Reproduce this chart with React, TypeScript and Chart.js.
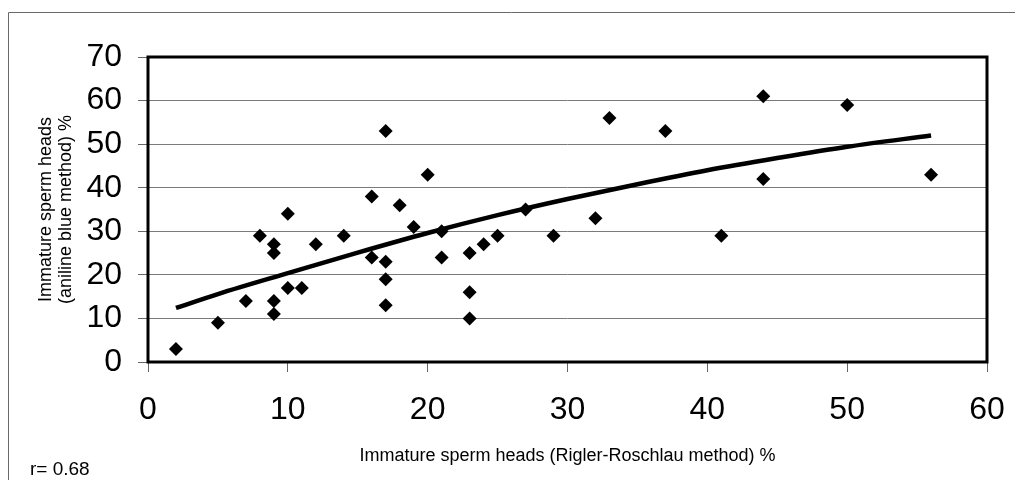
import React, { useEffect, useRef } from "react";
import { Chart, registerables } from "chart.js";

Chart.register(...registerables);

// Immature sperm heads, Rigler-Roschlau method (%)
const rrValues = [2, 5, 7, 8, 9, 9, 9, 9, 10, 10, 11, 12, 14, 16, 16, 17, 17, 17, 17, 18, 19, 20, 21, 21, 23, 23, 23, 24, 25, 27, 29, 32, 33, 37, 41, 44, 44, 50, 56];
// Immature sperm heads, aniline blue method (%)
const abValues = [3, 9, 14, 29, 27, 25, 14, 11, 34, 17, 17, 27, 29, 38, 24, 53, 23, 19, 13, 36, 31, 43, 30, 24, 25, 16, 10, 27, 29, 35, 29, 33, 56, 53, 29, 61, 42, 59, 43];

// Trend line
const trendX = [2, 5, 10, 15, 20, 25, 30, 35, 40, 45, 50, 56];
const trendY = [12.4, 15.6, 20.4, 25.1, 29.6, 33.7, 37.4, 40.8, 44.0, 46.8, 49.4, 52.0];

const xTicks = [0, 10, 20, 30, 40, 50, 60];
const yTicks = [0, 10, 20, 30, 40, 50, 60, 70];

const xTitle = "Immature sperm heads (Rigler-Roschlau method) %";
const yTitle = ["Immature sperm heads", "(aniline blue method) %"];
const rLabel = "r= 0.68";

const FONT = "'Liberation Sans', Arial, sans-serif";

export default function App() {
  const ref = useRef<HTMLCanvasElement | null>(null);

  useEffect(() => {
    const canvas = ref.current;
    if (!canvas) return;

    const framePlugin = {
      id: "frame",
      beforeDraw(chart: any) {
        const ctx = chart.ctx;
        ctx.save();
        ctx.fillStyle = "#ffffff";
        ctx.fillRect(0, 0, chart.width, chart.height);
        ctx.strokeStyle = "#6a6a6a";
        ctx.lineWidth = 1;
        ctx.beginPath();
        ctx.moveTo(8.5, chart.height);
        ctx.lineTo(8.5, 12.5);
        ctx.lineTo(chart.width, 12.5);
        ctx.stroke();
        ctx.restore();
      },
      afterDraw(chart: any) {
        const ctx = chart.ctx;
        const a = chart.chartArea;
        ctx.save();
        ctx.strokeStyle = "#000";
        ctx.lineWidth = 3;
        ctx.strokeRect(a.left, a.top, a.right - a.left, a.bottom - a.top);
        ctx.fillStyle = "#000";
        ctx.font = `19px ${FONT}`;
        ctx.textBaseline = "middle";
        ctx.textAlign = "left";
        ctx.fillText(rLabel, 30, 470);
        ctx.restore();
      },
    };

    const chart = new Chart(canvas, {
      type: "scatter",
      data: {
        datasets: [
          {
            label: "Samples",
            data: rrValues.map((x, i) => ({ x, y: abValues[i] })),
            pointStyle: "rectRot",
            pointRadius: 7,
            backgroundColor: "#000",
            borderColor: "#000",
            borderWidth: 0,
            order: 1,
          },
          {
            label: "Trend",
            type: "line",
            data: trendX.map((x, i) => ({ x, y: trendY[i] })),
            borderColor: "#000",
            borderWidth: 4.5,
            pointRadius: 0,
            cubicInterpolationMode: "monotone",
            fill: false,
            order: 2,
          } as any,
        ],
      },
      options: {
        responsive: false,
        animation: false,
        events: [],
        layout: { padding: { left: 0, top: 57, right: 28, bottom: 0 } },
        plugins: {
          legend: { display: false },
          tooltip: { enabled: false },
        },
        scales: {
          x: {
            type: "linear",
            min: 0,
            max: 60,
            afterBuildTicks: (scale: any) => {
              scale.ticks = xTicks.map((v) => ({ value: v }));
            },
            afterFit: (scale: any) => {
              scale.height = 118;
              scale.paddingLeft = 0;
              scale.paddingRight = 0;
            },
            grid: {
              drawOnChartArea: false,
              drawTicks: true,
              tickLength: 10,
              tickColor: "#666",
              lineWidth: 1,
            },
            border: { display: false },
            ticks: {
              color: "#000",
              padding: 19,
              font: { family: FONT, size: 32 },
            },
            title: {
              display: true,
              text: xTitle,
              color: "#000",
              font: { family: FONT, size: 18 },
              padding: { top: 0, bottom: 13 },
            },
          },
          y: {
            type: "linear",
            min: 0,
            max: 70,
            afterBuildTicks: (scale: any) => {
              scale.ticks = yTicks.map((v) => ({ value: v }));
            },
            afterFit: (scale: any) => {
              scale.width = 148;
              scale.paddingTop = 0;
              scale.paddingBottom = 0;
            },
            grid: {
              drawOnChartArea: true,
              drawTicks: true,
              tickLength: 10,
              color: "#7a7a7a",
              tickColor: "#666",
              lineWidth: 1,
            },
            border: { display: false },
            ticks: {
              color: "#000",
              padding: 16,
              font: { family: FONT, size: 32 },
            },
            title: {
              display: true,
              text: yTitle,
              color: "#000",
              font: { family: FONT, size: 18, lineHeight: 1.1 },
              padding: { top: 36, bottom: 0 },
            },
          },
        },
      },
      plugins: [framePlugin],
    });

    return () => chart.destroy();
  }, []);

  return (
    <div style={{ position: "absolute", left: 0, top: 0, width: 1015, height: 480, background: "#fff" }}>
      <canvas ref={ref} width={1015} height={480} style={{ display: "block", width: 1015, height: 480 }} />
    </div>
  );
}
